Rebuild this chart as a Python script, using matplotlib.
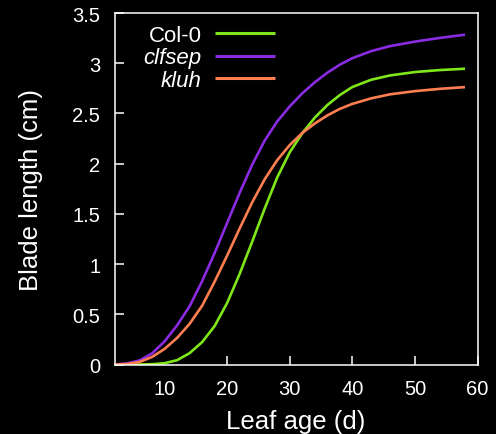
import matplotlib
matplotlib.use("Agg")
import matplotlib.pyplot as plt

# Leaf age (d)
leaf_age = [2, 4, 6, 8, 10, 12, 14, 16, 18, 20, 22, 24, 26, 28, 30, 32,
            34, 36, 38, 40, 43, 46, 50, 54, 58]

# Blade length (cm)
col0 = [0.0, 0.0, 0.0, 0.003, 0.013, 0.043, 0.113, 0.223, 0.383, 0.613, 0.903, 1.223,
        1.553, 1.863, 2.113, 2.303, 2.458, 2.583, 2.683, 2.763, 2.835, 2.878, 2.912, 2.932, 2.945]
clfsep = [0.0, 0.01, 0.04, 0.11, 0.23, 0.39, 0.58, 0.83, 1.11, 1.41, 1.71, 1.99,
          2.23, 2.42, 2.57, 2.70, 2.81, 2.905, 2.985, 3.05, 3.12, 3.17, 3.215, 3.252, 3.284]
kluh = [0.0, 0.005, 0.025, 0.075, 0.155, 0.265, 0.405, 0.585, 0.825, 1.085, 1.355, 1.615,
        1.845, 2.035, 2.185, 2.305, 2.40, 2.48, 2.545, 2.595, 2.65, 2.69, 2.722, 2.745, 2.762]

series_names = ["Col-0", "clfsep", "kluh"]
series_values = [col0, clfsep, kluh]
colors = ["#7fe619", "#8a2be2", "#ff7f50"]
italic = [False, True, True]

x_ticks = [10, 20, 30, 40, 50, 60]
y_ticks = [0, 0.5, 1, 1.5, 2, 2.5, 3, 3.5]
y_tick_labels = ["0", "0.5", "1", "1.5", "2", "2.5", "3", "3.5"]

plt.rcParams["font.family"] = ["Liberation Sans", "DejaVu Sans"]

fig = plt.figure(figsize=(4.96, 4.35), dpi=100, facecolor="black")
ax = fig.add_axes([114.5 / 496, 1 - 365.5 / 435, 363 / 496, 351.5 / 435])
ax.set_facecolor("black")

for name, vals, c in zip(series_names, series_values, colors):
    ax.plot(leaf_age, vals, color=c, lw=1.9, label=name, zorder=3,
            solid_capstyle="butt", solid_joinstyle="round")

ax.set_xlim(2, 60)
ax.set_ylim(0, 3.5)
ax.set_xticks(x_ticks)
ax.set_xticklabels([str(t) for t in x_ticks])
ax.set_yticks(y_ticks)
ax.set_yticklabels(y_tick_labels)

for s in ax.spines.values():
    s.set_color("white")
    s.set_linewidth(1.1)
    s.set_zorder(4)

ax.tick_params(axis="both", direction="in", colors="white", length=6.3,
               width=1.1, labelsize=14.5)
ax.tick_params(axis="x", pad=10.5)
ax.tick_params(axis="y", pad=10.2)
ax.set_axisbelow(True)
ax.xaxis.get_major_ticks()[0].tick1line.set_visible(False)

ax.set_xlabel("Leaf age (d)", color="white", fontsize=18.5)
ax.set_ylabel("Blade length (cm)", color="white", fontsize=18.5)
ax.xaxis.set_label_coords(0.5, -0.128)
ax.yaxis.set_label_coords(-0.196, 0.5)

leg = ax.legend(loc="upper right", bbox_to_anchor=(0.442, 0.966),
                frameon=False, markerfirst=False, fontsize=16,
                handlelength=2.7, handletextpad=0.6, labelspacing=0.06,
                borderpad=0, borderaxespad=0)
for t, it in zip(leg.get_texts(), italic):
    t.set_color("white")
    if it:
        t.set_fontstyle("italic")
for h in leg.get_lines():
    h.set_linewidth(2.2)

fig.savefig("out.png", dpi=100, facecolor="black")
